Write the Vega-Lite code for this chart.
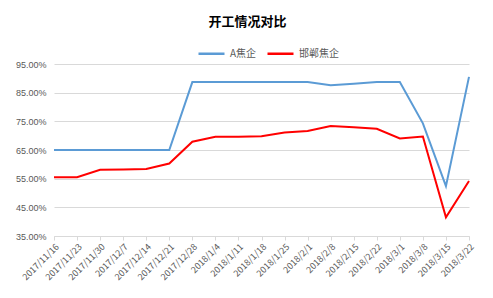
{
  "$schema": "https://vega.github.io/schema/vega-lite/v6.json",
  "width": 415,
  "height": 172,
  "autosize": {"type": "none"},
  "padding": {"left": 54, "top": 64, "right": 24, "bottom": 62},
  "background": "white",
  "title": {
    "text": "开工情况对比",
    "font": "Noto Sans CJK SC",
    "fontSize": 13,
    "fontWeight": "bold",
    "color": "#000000",
    "anchor": "middle",
    "dx": -14,
    "offset": 10
  },
  "data": {
    "values": [
      {"date": "2017/11/16", "series": "A焦企", "v": 0.65},
      {"date": "2017/11/23", "series": "A焦企", "v": 0.65},
      {"date": "2017/11/30", "series": "A焦企", "v": 0.65},
      {"date": "2017/12/7", "series": "A焦企", "v": 0.65},
      {"date": "2017/12/14", "series": "A焦企", "v": 0.65},
      {"date": "2017/12/21", "series": "A焦企", "v": 0.65},
      {"date": "2017/12/28", "series": "A焦企", "v": 0.887},
      {"date": "2018/1/4", "series": "A焦企", "v": 0.887},
      {"date": "2018/1/11", "series": "A焦企", "v": 0.887},
      {"date": "2018/1/18", "series": "A焦企", "v": 0.887},
      {"date": "2018/1/25", "series": "A焦企", "v": 0.887},
      {"date": "2018/2/1", "series": "A焦企", "v": 0.887},
      {"date": "2018/2/8", "series": "A焦企", "v": 0.876},
      {"date": "2018/2/15", "series": "A焦企", "v": 0.881},
      {"date": "2018/2/22", "series": "A焦企", "v": 0.887},
      {"date": "2018/3/1", "series": "A焦企", "v": 0.887},
      {"date": "2018/3/8", "series": "A焦企", "v": 0.743},
      {"date": "2018/3/15", "series": "A焦企", "v": 0.524},
      {"date": "2018/3/22", "series": "A焦企", "v": 0.905},
      {"date": "2017/11/16", "series": "邯郸焦企", "v": 0.555},
      {"date": "2017/11/23", "series": "邯郸焦企", "v": 0.555},
      {"date": "2017/11/30", "series": "邯郸焦企", "v": 0.581},
      {"date": "2017/12/7", "series": "邯郸焦企", "v": 0.582},
      {"date": "2017/12/14", "series": "邯郸焦企", "v": 0.584},
      {"date": "2017/12/21", "series": "邯郸焦企", "v": 0.603},
      {"date": "2017/12/28", "series": "邯郸焦企", "v": 0.679},
      {"date": "2018/1/4", "series": "邯郸焦企", "v": 0.696},
      {"date": "2018/1/11", "series": "邯郸焦企", "v": 0.696},
      {"date": "2018/1/18", "series": "邯郸焦企", "v": 0.698},
      {"date": "2018/1/25", "series": "邯郸焦企", "v": 0.711},
      {"date": "2018/2/1", "series": "邯郸焦企", "v": 0.716},
      {"date": "2018/2/8", "series": "邯郸焦企", "v": 0.734},
      {"date": "2018/2/15", "series": "邯郸焦企", "v": 0.729},
      {"date": "2018/2/22", "series": "邯郸焦企", "v": 0.724},
      {"date": "2018/3/1", "series": "邯郸焦企", "v": 0.690},
      {"date": "2018/3/8", "series": "邯郸焦企", "v": 0.697},
      {"date": "2018/3/15", "series": "邯郸焦企", "v": 0.415},
      {"date": "2018/3/22", "series": "邯郸焦企", "v": 0.542}
    ]
  },
  "mark": {"type": "line", "strokeWidth": 2},
  "encoding": {
    "x": {
      "field": "date",
      "type": "ordinal",
      "sort": null,
      "scale": {"type": "point", "padding": 0},
      "axis": {
        "title": null,
        "labelAngle": -45,
        "labelFont": "Noto Sans CJK SC",
        "labelFontSize": 9,
        "labelColor": "#595959",
        "domainColor": "#D9D9D9",
        "tickColor": "#D9D9D9",
        "tickSize": 4,
        "grid": false,
        "labelPadding": 2
      }
    },
    "y": {
      "field": "v",
      "type": "quantitative",
      "scale": {"domain": [0.35, 0.95], "nice": false, "zero": false},
      "axis": {
        "title": null,
        "values": [0.35, 0.45, 0.55, 0.65, 0.75, 0.85, 0.95],
        "format": ".2%",
        "labelFont": "Liberation Sans",
        "labelFontSize": 9,
        "labelColor": "#595959",
        "domain": false,
        "ticks": false,
        "labelPadding": 8,
        "gridColor": "#D9D9D9",
        "gridWidth": 1
      }
    },
    "color": {
      "field": "series",
      "type": "nominal",
      "sort": ["A焦企", "邯郸焦企"],
      "scale": {"domain": ["A焦企", "邯郸焦企"], "range": ["#5B9BD5", "#FF0000"]},
      "legend": {
        "title": null,
        "orient": "none",
        "direction": "horizontal",
        "legendX": 143,
        "legendY": -25,
        "symbolType": "stroke",
        "symbolSize": 676,
        "symbolStrokeWidth": 2.5,
        "labelFont": "Noto Sans CJK SC",
        "labelFontSize": 10,
        "labelColor": "#595959",
        "columnPadding": 5,
        "labelOffset": 4
      }
    }
  },
  "config": {"view": {"stroke": null}}
}
